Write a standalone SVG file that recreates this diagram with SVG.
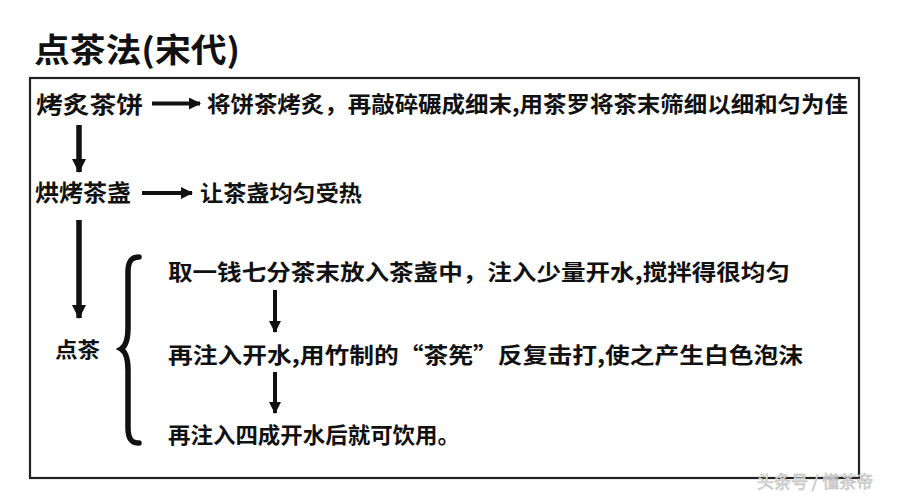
<svg xmlns="http://www.w3.org/2000/svg" width="900" height="500" viewBox="0 0 900 500">
<defs>
<style>
text{font-family:"Noto Sans CJK SC","Noto Sans CJK TC",sans-serif;fill:#111;font-weight:bold}
.t{font-size:33px}
.lab{font-size:23px}
.desc{font-size:22px}
.wm{font-size:17px;fill:#e6e6e6;stroke:#bdbdbd;stroke-width:0.6;font-weight:normal}
.ln{stroke:#111;fill:none}
</style>
<marker id="ah" markerUnits="userSpaceOnUse" markerWidth="16" markerHeight="16" refX="13" refY="8" orient="auto">
<path d="M0,1 L14,8 L0,15 Z" fill="#111"/>
</marker>
<marker id="ahs" markerUnits="userSpaceOnUse" markerWidth="14" markerHeight="14" refX="11" refY="6" orient="auto">
<path d="M0,0 L12,6 L0,12 Z" fill="#111"/>
</marker>
</defs>
<rect width="900" height="500" fill="#fff"/>
<text class="t" x="34" y="62" textLength="206" lengthAdjust="spacingAndGlyphs">点茶法(宋代)</text>
<rect x="30" y="78" width="829" height="400" fill="none" stroke="#222" stroke-width="2.2"/>

<g id="n1"><text class="lab" x="36" y="113" textLength="107" lengthAdjust="spacingAndGlyphs">烤炙茶饼</text></g>
<g id="n1d"><text class="desc" x="207" y="112" textLength="641" lengthAdjust="spacingAndGlyphs">将饼茶烤炙，再敲碎碾成细末,用茶罗将茶末筛细以细和匀为佳</text></g>
<g id="n2"><text class="lab" x="35" y="201" textLength="96" lengthAdjust="spacingAndGlyphs">烘烤茶盏</text></g>
<g id="n2d"><text class="desc" x="200" y="201" textLength="162" lengthAdjust="spacingAndGlyphs">让茶盏均匀受热</text></g>
<g id="n3"><text class="desc" x="55" y="357" textLength="45" lengthAdjust="spacingAndGlyphs" style="font-size:21px">点茶</text></g>
<g id="s1"><text class="desc" x="168" y="280" textLength="622" lengthAdjust="spacingAndGlyphs">取一钱七分茶末放入茶盏中，注入少量开水,搅拌得很均匀</text></g>
<g id="s2"><text class="desc" x="168" y="363" textLength="635" lengthAdjust="spacingAndGlyphs">再注入开水,用竹制的“茶筅”反复击打,使之产生白色泡沫</text></g>
<g id="s3"><text class="desc" x="168" y="443" textLength="292" lengthAdjust="spacingAndGlyphs">再注入四成开水后就可饮用。</text></g>

<g id="connectors">
<line class="ln" x1="152" y1="103.5" x2="200" y2="103.5" stroke-width="4" marker-end="url(#ahs)"/>
<line class="ln" x1="142" y1="193" x2="192" y2="193" stroke-width="4" marker-end="url(#ahs)"/>
<line class="ln" x1="79" y1="125" x2="79" y2="172" stroke-width="5.5" marker-end="url(#ah)"/>
<line class="ln" x1="79" y1="220" x2="79" y2="318" stroke-width="5.5" marker-end="url(#ah)"/>
<line class="ln" x1="275" y1="290" x2="275" y2="332" stroke-width="4" marker-end="url(#ahs)"/>
<line class="ln" x1="275" y1="372" x2="275" y2="413" stroke-width="4" marker-end="url(#ahs)"/>
<path class="ln" stroke-width="5.5" stroke-linecap="round" d="M139,257 C131,257 128,262 128,272 L128,328 C128,340 126,346 121,349 C126,352 128,358 128,370 L128,428 C128,438 131,443 139,443"/>
</g>

<text class="wm" x="757" y="488">头条号 / 懂茶帝</text>
</svg>
